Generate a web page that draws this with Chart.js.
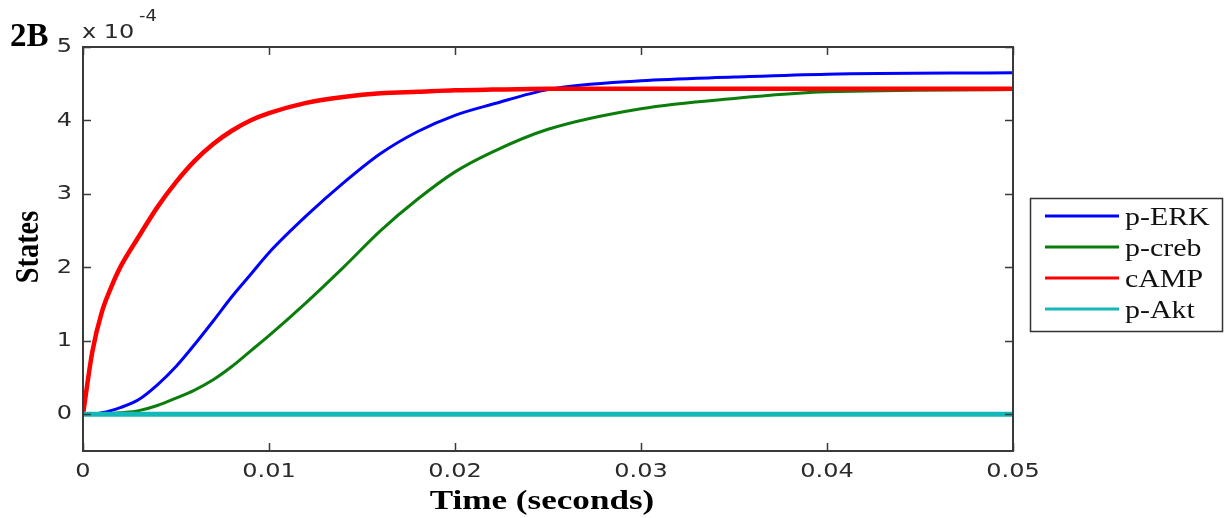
<!DOCTYPE html>
<html>
<head>
<meta charset="utf-8">
<script src="https://cdn.jsdelivr.net/npm/chart.js@4.4.1/dist/chart.umd.min.js"></script>
<style>
  html, body { margin: 0; padding: 0; background: #fff; }
  #wrap { width: 1225px; height: 518px; }
</style>
</head>
<body>
<div id="wrap"><canvas id="statesChart" width="1225" height="518"></canvas></div>
<script>
// time (seconds) and states in units of 1e-4
const timePoints = [0, 0.0005, 0.001, 0.0015, 0.002, 0.003, 0.004, 0.005, 0.006, 0.007, 0.008, 0.009, 0.010, 0.012, 0.014, 0.016, 0.018, 0.020, 0.022, 0.025, 0.030, 0.035, 0.040, 0.050];
const pERK  = [0, 0, 0.02, 0.05, 0.09, 0.2, 0.4, 0.65, 0.95, 1.27, 1.6, 1.9, 2.2, 2.7, 3.15, 3.55, 3.85, 4.07, 4.22, 4.42, 4.54, 4.59, 4.63, 4.65];
const pCreb = [0, 0, 0, 0.01, 0.02, 0.05, 0.12, 0.22, 0.33, 0.47, 0.65, 0.86, 1.07, 1.52, 2.0, 2.5, 2.93, 3.3, 3.57, 3.88, 4.16, 4.3, 4.39, 4.42];
const cAMP  = [0, 0.85, 1.38, 1.72, 2.0, 2.42, 2.82, 3.16, 3.45, 3.68, 3.86, 4.0, 4.1, 4.24, 4.32, 4.37, 4.39, 4.41, 4.42, 4.43, 4.43, 4.43, 4.43, 4.43];
const pAkt  = [0, 0, 0, 0, 0, 0, 0, 0, 0, 0, 0, 0, 0, 0, 0, 0, 0, 0, 0, 0, 0, 0, 0, 0];
const xTicks = [0, 0.01, 0.02, 0.03, 0.04, 0.05];
const yTicks = [0, 1, 2, 3, 4, 5];

const seriesNames = ['p-ERK', 'p-creb', 'cAMP', 'p-Akt'];
const seriesColors = ['#0000ff', '#0b7d0b', '#ff0000', '#14b8b8'];
const seriesWidths = [3, 3, 4.5, 5];
const seriesValues = [pERK, pCreb, cAMP, pAkt];

function toPoints(values) {
    return timePoints.map((t, i) => ({ x: t, y: values[i] }));
}

const datasets = seriesNames.map((name, i) => ({
    label: name,
    data: toPoints(seriesValues[i]),
    borderColor: seriesColors[i],
    backgroundColor: seriesColors[i],
    borderWidth: seriesWidths[i],
    pointRadius: 0,
    cubicInterpolationMode: 'monotone',
    fill: false,
    order: 4 - i
}));

// the source image is stretched sideways, so text gets a horizontal scale
function wideText(ctx, text, x, y, sx, align) {
    ctx.save();
    ctx.translate(x, y);
    ctx.scale(sx, 1);
    ctx.textAlign = align;
    ctx.fillText(text, 0, 0);
    ctx.restore();
}

const matlabBox = {
    id: 'matlabBox',
    afterDraw(chart) {
        const ctx = chart.ctx;
        const a = chart.chartArea;
        const xs = chart.scales.x, ys = chart.scales.y;
        ctx.save();
        ctx.strokeStyle = '#3a3a3a';
        ctx.lineWidth = 2;
        ctx.strokeRect(a.left, a.top, a.right - a.left, a.bottom - a.top);
        // inward ticks on all four sides
        ctx.lineWidth = 1.5;
        ctx.beginPath();
        xTicks.forEach(v => {
            const px = Math.round(xs.getPixelForValue(v)) + 0.5;
            ctx.moveTo(px, a.bottom); ctx.lineTo(px, a.bottom - 8);
            ctx.moveTo(px, a.top); ctx.lineTo(px, a.top + 8);
        });
        yTicks.forEach(v => {
            const py = Math.round(ys.getPixelForValue(v)) + 0.5;
            ctx.moveTo(a.left, py); ctx.lineTo(a.left + 8, py);
            ctx.moveTo(a.right, py); ctx.lineTo(a.right - 8, py);
        });
        ctx.stroke();

        // tick labels
        ctx.fillStyle = '#2a2a2a';
        ctx.font = '20px "DejaVu Sans"';
        ctx.textBaseline = 'middle';
        xTicks.forEach(v => wideText(ctx, String(v), xs.getPixelForValue(v), a.bottom + 21, 1.2, 'center'));
        yTicks.forEach(v => wideText(ctx, String(v), a.left - 11, ys.getPixelForValue(v), 1.2, 'right'));

        // exponent label
        ctx.textBaseline = 'alphabetic';
        wideText(ctx, 'x 10', 82, 38, 1.2, 'left');
        ctx.font = '15px "DejaVu Sans"';
        wideText(ctx, '-4', 139, 21, 1.2, 'left');

        // panel tag
        ctx.fillStyle = '#000';
        ctx.font = 'bold 33px "Liberation Serif"';
        ctx.textAlign = 'left';
        ctx.fillText('2B', 10, 46);

        // axis titles
        ctx.font = 'bold 27px "Liberation Serif"';
        ctx.textBaseline = 'middle';
        wideText(ctx, 'Time (seconds)', 542, 502, 1.3, 'center');
        ctx.save();
        ctx.translate(29, 247);
        ctx.rotate(-Math.PI / 2);
        ctx.scale(1.05, 1.25);
        ctx.textAlign = 'center';
        ctx.fillText('States', 0, 0);
        ctx.restore();

        // legend
        ctx.fillStyle = '#fff';
        ctx.fillRect(1030, 198, 192, 133);
        ctx.strokeStyle = '#333';
        ctx.lineWidth = 1.5;
        ctx.strokeRect(1030.5, 198.5, 192, 133);
        const rowY = [216, 247, 278, 309];
        chart.data.datasets.forEach((ds, i) => {
            ctx.strokeStyle = ds.borderColor;
            ctx.lineWidth = 3;
            ctx.beginPath();
            ctx.moveTo(1045, rowY[i]);
            ctx.lineTo(1119, rowY[i]);
            ctx.stroke();
            ctx.fillStyle = '#111';
            ctx.font = '26px "Liberation Serif"';
            ctx.textBaseline = 'middle';
            wideText(ctx, ds.label, 1125, rowY[i] + 2, 1.15, 'left');
        });
        ctx.restore();
    }
};

const ctx = document.getElementById('statesChart').getContext('2d');
new Chart(ctx, {
    type: 'line',
    data: { datasets: datasets },
    options: {
        responsive: false,
        animation: false,
        events: [],
        layout: { padding: { top: 47, right: 212, left: 0, bottom: 0 } },
        plugins: { legend: { display: false }, tooltip: { enabled: false } },
        scales: {
            x: {
                type: 'linear',
                min: 0,
                max: 0.05,
                afterBuildTicks: axis => { axis.ticks = xTicks.map(v => ({ value: v })); },
                afterFit: axis => { axis.height = 67; },
                grid: { display: false, drawTicks: false },
                border: { display: false },
                ticks: { display: false }
            },
            y: {
                type: 'linear',
                min: -0.5,
                max: 5,
                afterBuildTicks: axis => { axis.ticks = yTicks.map(v => ({ value: v })); },
                afterFit: axis => { axis.width = 83; },
                grid: { display: false, drawTicks: false },
                border: { display: false },
                ticks: { display: false }
            }
        }
    },
    plugins: [matlabBox]
});
</script>
</body>
</html>
